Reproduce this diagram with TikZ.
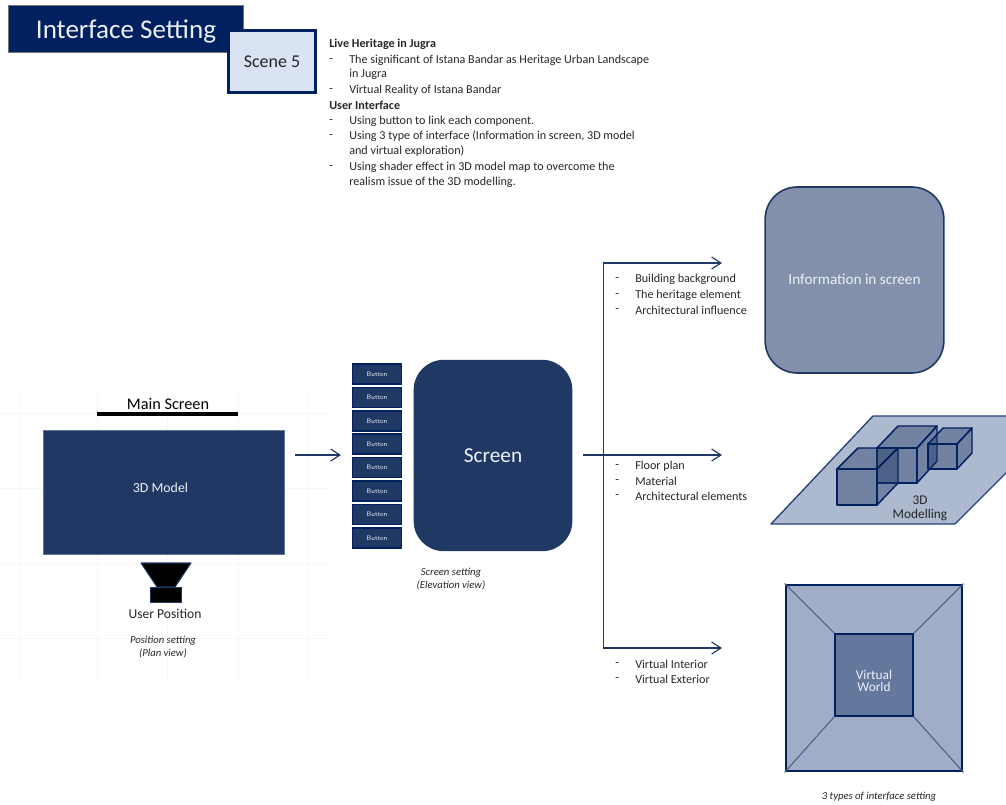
\documentclass[tikz,border=0pt]{standalone}
\usepackage{fontspec}
\setmainfont{Carlito}
\usetikzlibrary{arrows.meta}
\definecolor{navy}{HTML}{1F3864}
\definecolor{deepnavy}{HTML}{002060}
\definecolor{lightblue}{HTML}{DAE3F3}
\definecolor{plate}{HTML}{ADB9CF}
\definecolor{infofill}{HTML}{8290AB}
\definecolor{vwouter}{HTML}{A0ADC6}
\definecolor{vwinner}{HTML}{64779D}
\definecolor{txt}{HTML}{262626}
\definecolor{softwhite}{HTML}{EDEFF4}
\definecolor{gridc}{HTML}{F6F6F6}
\newcommand{\fsz}[2]{\fontsize{#1}{#2}\selectfont}
\tikzset{
  x=0.75pt,y=-0.75pt,
  linetext/.style={anchor=west,inner sep=0pt,yshift=-0.9pt,text=txt,font=\fsz{9.1pt}{10pt}},
  headtext/.style={linetext,font=\fsz{9.1pt}{10pt}\bfseries},
  btn/.style={draw=deepnavy,line width=1.1pt,fill=navy,text=softwhite,minimum width=36.5pt,minimum height=15pt,inner sep=0pt,font=\fsz{5pt}{6pt}\sffamily},
  flow/.style={draw=navy,line width=.85pt,-{Straight Barb[length=7pt,width=9pt,line width=.85pt]}},
  trunk/.style={draw=navy,line width=.7pt},
  cubeedge/.style={draw=deepnavy,line width=1.1pt,fill=navy,fill opacity=.42,line join=round},
  caption/.style={inner sep=0pt,align=center,text=txt,font=\fsz{8pt}{9.7pt}\itshape},
  gridline/.style={draw=gridc,line width=.5pt},
}
\begin{document}
\begin{tikzpicture}
\useasboundingbox (0,0) rectangle (1006,805);
\clip (0,0) rectangle (1006,805);
% faint grid
\foreach \gx in {20,97,167,238,308} \draw[gridline] (\gx,393) -- (\gx,683);
\foreach \gy in {413,488,564,638} \draw[gridline] (0,\gy) -- (330,\gy);
% title
\node[draw=black!55,line width=.8pt,fill=deepnavy,anchor=north west,minimum width=176.5pt,minimum height=35.5pt,inner sep=0pt] (title) at (8,5) {};
\node[text=softwhite,inner sep=0pt,font=\fsz{20.3pt}{22pt}] (titletext) at (126,31.5) {Interface Setting};
\node[draw=deepnavy,line width=2.2pt,fill=lightblue,text=txt,minimum width=65pt,minimum height=47pt,inner sep=0pt,font=\fsz{13.5pt}{15pt}] (scene) at (272,61.5) {Scene 5};
% text block
\node[headtext] (h1) at (329,43) {Live Heritage in Jugra};
\node[linetext] (d1) at (329,59) {-};
\node[linetext] (t1) at (349,59) {The significant of Istana Bandar as Heritage Urban Landscape};
\node[linetext] (t1b) at (349,73) {in Jugra};
\node[linetext] (d2) at (329,89) {-};
\node[linetext] (t2) at (349,89) {Virtual Reality of Istana Bandar};
\node[headtext] (h2) at (329,104) {User Interface};
\node[linetext] (d3) at (329,120) {-};
\node[linetext] (t3) at (349,120) {Using button to link each component.};
\node[linetext] (d4) at (329,135) {-};
\node[linetext] (t4) at (349,135) {Using 3 type of interface (Information in screen, 3D model};
\node[linetext] (t4b) at (349,150) {and virtual exploration)};
\node[linetext] (d5) at (329,166) {-};
\node[linetext] (t5) at (349,166) {Using shader effect in 3D model map to overcome  the};
\node[linetext] (t5b) at (349,181) {realism issue of the 3D modelling.};
% left: plan view
\node[text=black,inner sep=0pt,font=\fsz{12.2pt}{14pt}] (mainlabel) at (168,404) {Main Screen};
\node[fill=black,minimum width=105.75pt,minimum height=3.6pt,inner sep=0pt] (mainbar) at (167.5,414) {};
\node[fill=navy,draw=navy!70,line width=.4pt,minimum width=180.75pt,minimum height=93pt,inner sep=0pt] (model) at (163.5,492) {};
\node[text=softwhite,inner sep=0pt,font=\fsz{10.4pt}{12pt}] (modeltext) at (160.5,488) {3D Model};
\draw[draw=navy,fill=black,line width=.8pt,line join=round] (141,563) -- (191,563) -- (175,587) -- (157,587) -- cycle;
\node[draw=navy,fill=black,line width=.9pt,minimum width=23pt,minimum height=11.5pt,inner sep=0pt] (seat) at (166,595) {};
\node[text=txt,inner sep=0pt,font=\fsz{10.2pt}{12pt}] (userpos) at (165,614) {User Position};
\node[caption] (plancap) at (163,647) {Position setting\\(Plan view)};
% arrow to buttons
\coordinate (a0) at (295,455);
\coordinate (a1) at (341,455);
\draw[flow] (a0) -- (a1);
% buttons
\foreach \bn/\by in {b1/374,b2/397.4,b3/420.8,b4/444.2,b5/467.6,b6/491,b7/514.4,b8/537.8}
  \node[btn] (\bn) at (377,\by) {Button};
% screen
\node[draw=navy,line width=1pt,fill=navy,rounded corners=22pt,minimum width=118pt,minimum height=142.5pt,inner sep=0pt] (screen) at (493,455.5) {};
\node[text=softwhite,inner sep=0pt,font=\fsz{16pt}{18pt}] (screentext) at (493,456) {Screen};
\node[caption] (screencap) at (451,579) {Screen setting\\(Elevation view)};
% connectors
\coordinate (s0) at (583,455);
\coordinate (j1) at (603,263);
\coordinate (j3) at (603,648);
\coordinate (e1) at (722,263);
\coordinate (e2) at (722,455);
\coordinate (e3) at (722,648);
\draw[trunk] (j1) -- (j3);
\draw[flow] (j1) -- (e1);
\draw[flow] (s0) -- (e2);
\draw[flow] (j3) -- (e3);
% lists
\foreach \ln/\lx/\ly in {la/615/278,lb/615/294,lc/615/309,ld/615/465,le/615/480,lf/615/495,lg/615/663,lh/615/678}
  \node[linetext] (\ln) at (\lx,\ly) {-};
\node[linetext] (ma) at (635,278) {Building background};
\node[linetext] (mb) at (635,294) {The heritage element};
\node[linetext] (mc) at (635,309) {Architectural influence};
\node[linetext] (md) at (635,465) {Floor plan};
\node[linetext] (me) at (635,480) {Material};
\node[linetext] (mf) at (635,495) {Architectural elements};
\node[linetext] (mg) at (635,663) {Virtual Interior};
\node[linetext] (mh) at (635,678) {Virtual Exterior};
% information box
\node[draw=navy,line width=1.2pt,fill=infofill,rounded corners=24pt,minimum width=134pt,minimum height=139.5pt,inner sep=0pt] (info) at (854.5,280) {};
\node[text=softwhite,inner sep=0pt,font=\fsz{11.4pt}{13pt}] (infotext) at (854.5,279) {Information in screen};
% 3D modelling plate
\draw[draw=deepnavy!85,line width=1pt,fill=plate,line join=round] (771,524) -- (955,524) -- (1063,416) -- (873,416) -- cycle;
% cube 2
\draw[cubeedge] (877,448) rectangle (917,483);
\draw[cubeedge] (877,448) -- (898,426) -- (937,426) -- (917,448) -- cycle;
\draw[cubeedge] (917,448) -- (937,426) -- (937,461) -- (917,483) -- cycle;
% cube 3
\draw[cubeedge] (928,444) rectangle (957,469);
\draw[cubeedge] (928,444) -- (943,428) -- (972,428) -- (957,444) -- cycle;
\draw[cubeedge] (957,444) -- (972,428) -- (972,453) -- (957,469) -- cycle;
% cube 1
\draw[cubeedge] (837,469) rectangle (877,505);
\draw[cubeedge] (837,469) -- (858,448) -- (898,448) -- (877,469) -- cycle;
\draw[cubeedge] (877,469) -- (898,448) -- (898,483) -- (877,505) -- cycle;
\node[text=txt,inner sep=0pt,align=center,font=\fsz{10pt}{10.5pt}] (modelling) at (920,508.5) {3D\\Modelling};
% virtual world
\node[draw=deepnavy,line width=1.6pt,fill=vwouter,minimum width=132.5pt,minimum height=140pt,inner sep=0pt] (vwo) at (874,678) {};
\draw[navy!80,line width=.8pt] (vwo.north west) -- (834,633);
\draw[navy!80,line width=.8pt] (vwo.north east) -- (914,633);
\draw[navy!80,line width=.8pt] (vwo.south west) -- (834,717);
\draw[navy!80,line width=.8pt] (vwo.south east) -- (914,717);
\node[draw=deepnavy,line width=1.6pt,fill=vwinner,minimum width=59pt,minimum height=62pt,inner sep=0pt] (vwi) at (874,675) {};
\node[text=softwhite,inner sep=0pt,align=center,font=\fsz{10pt}{9.5pt}] (vwitext) at (874,681) {Virtual\\World};
\node[caption] (typescap) at (879,797) {3 types of interface setting};
\end{tikzpicture}
\end{document}
